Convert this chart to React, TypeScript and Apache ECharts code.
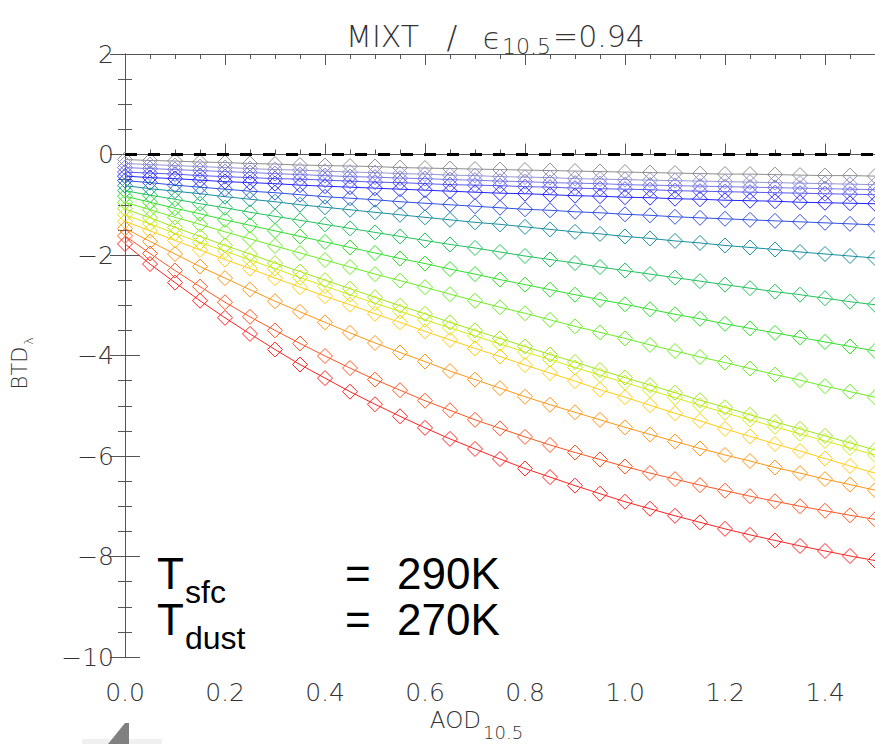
import React, { useEffect, useRef } from 'react';
import * as echarts from 'echarts';

// AOD_10.5 sample positions
const AOD = [
  0.0, 0.05, 0.1, 0.15, 0.2, 0.25, 0.3, 0.35, 0.4, 0.45, 0.5, 0.55, 0.6, 0.65, 0.7, 0.75,
  0.8, 0.85, 0.9, 0.95, 1.0, 1.05, 1.1, 1.15, 1.2, 1.25, 1.3, 1.35, 1.4, 1.45, 1.5,
];

const X_TICK_LABELS = ['0.0', '0.2', '0.4', '0.6', '0.8', '1.0', '1.2', '1.4'];
const Y_TICK_LABELS = ['\u221210', '\u22128', '\u22126', '\u22124', '\u22122', '0', '2'];

// BTD curves (top to bottom)
const btdGray = [-0.10,-0.12,-0.13,-0.15,-0.16,-0.18,-0.19,-0.21,-0.22,-0.23,-0.24,-0.26,-0.27,-0.28,-0.29,-0.30,-0.31,-0.32,-0.33,-0.34,-0.35,-0.36,-0.37,-0.38,-0.39,-0.39,-0.40,-0.41,-0.42,-0.42,-0.43];
const btdLavender = [-0.18,-0.20,-0.22,-0.24,-0.26,-0.28,-0.30,-0.31,-0.33,-0.35,-0.36,-0.38,-0.39,-0.41,-0.42,-0.44,-0.45,-0.46,-0.48,-0.49,-0.50,-0.51,-0.52,-0.53,-0.54,-0.55,-0.56,-0.57,-0.58,-0.59,-0.60];
const btdSlate = [-0.26,-0.28,-0.30,-0.32,-0.34,-0.36,-0.38,-0.40,-0.42,-0.44,-0.45,-0.47,-0.48,-0.50,-0.51,-0.53,-0.54,-0.56,-0.57,-0.58,-0.60,-0.61,-0.62,-0.63,-0.64,-0.65,-0.66,-0.67,-0.68,-0.69,-0.70];
const btdPurpleBlue = [-0.35,-0.37,-0.39,-0.42,-0.44,-0.46,-0.48,-0.49,-0.51,-0.53,-0.55,-0.56,-0.58,-0.60,-0.61,-0.62,-0.64,-0.65,-0.67,-0.68,-0.69,-0.70,-0.72,-0.73,-0.74,-0.75,-0.76,-0.77,-0.78,-0.79,-0.80];
const btdBlue = [-0.43,-0.46,-0.48,-0.51,-0.54,-0.56,-0.58,-0.61,-0.63,-0.65,-0.67,-0.69,-0.71,-0.73,-0.75,-0.77,-0.78,-0.80,-0.82,-0.83,-0.85,-0.86,-0.88,-0.89,-0.91,-0.92,-0.93,-0.95,-0.96,-0.97,-0.98];
const btdRoyal = [-0.52,-0.56,-0.61,-0.65,-0.69,-0.73,-0.76,-0.80,-0.84,-0.87,-0.90,-0.94,-0.97,-1.00,-1.03,-1.06,-1.09,-1.11,-1.14,-1.16,-1.19,-1.21,-1.24,-1.26,-1.28,-1.30,-1.32,-1.34,-1.36,-1.38,-1.40];
const btdTeal = [-0.62,-0.68,-0.73,-0.78,-0.84,-0.89,-0.94,-1.00,-1.05,-1.10,-1.15,-1.20,-1.25,-1.30,-1.35,-1.39,-1.44,-1.49,-1.54,-1.58,-1.63,-1.67,-1.72,-1.76,-1.81,-1.85,-1.89,-1.94,-1.98,-2.02,-2.06];
const btdSeaGreen = [-0.72,-0.81,-0.89,-0.98,-1.06,-1.15,-1.23,-1.31,-1.39,-1.47,-1.55,-1.63,-1.71,-1.79,-1.86,-1.94,-2.02,-2.09,-2.16,-2.24,-2.31,-2.38,-2.45,-2.52,-2.59,-2.66,-2.73,-2.79,-2.86,-2.93,-2.99];
const btdGreen = [-0.83,-0.95,-1.07,-1.18,-1.30,-1.41,-1.52,-1.63,-1.74,-1.85,-1.96,-2.07,-2.17,-2.28,-2.38,-2.49,-2.59,-2.69,-2.79,-2.89,-2.98,-3.08,-3.18,-3.27,-3.37,-3.46,-3.55,-3.64,-3.73,-3.82,-3.91];
const btdLime = [-0.95,-1.10,-1.25,-1.39,-1.54,-1.68,-1.82,-1.96,-2.10,-2.24,-2.38,-2.51,-2.64,-2.78,-2.91,-3.04,-3.16,-3.29,-3.42,-3.54,-3.66,-3.79,-3.91,-4.03,-4.14,-4.26,-4.38,-4.49,-4.61,-4.72,-4.83];
const btdChartreuse = [-1.08,-1.26,-1.45,-1.63,-1.81,-1.98,-2.16,-2.33,-2.50,-2.67,-2.84,-3.01,-3.17,-3.34,-3.50,-3.66,-3.82,-3.98,-4.13,-4.29,-4.44,-4.59,-4.74,-4.89,-5.03,-5.18,-5.32,-5.46,-5.60,-5.74,-5.88];
const btdYellowGreen = [-1.20,-1.38,-1.57,-1.75,-1.92,-2.10,-2.27,-2.45,-2.62,-2.79,-2.96,-3.12,-3.29,-3.45,-3.61,-3.77,-3.93,-4.08,-4.24,-4.39,-4.54,-4.69,-4.84,-4.99,-5.14,-5.28,-5.42,-5.56,-5.70,-5.84,-5.98];
const btdYellow = [-1.33,-1.52,-1.71,-1.90,-2.09,-2.27,-2.46,-2.64,-2.82,-2.99,-3.17,-3.34,-3.52,-3.69,-3.86,-4.02,-4.19,-4.35,-4.51,-4.68,-4.83,-4.99,-5.15,-5.30,-5.46,-5.61,-5.76,-5.90,-6.05,-6.20,-6.34];
const btdOrange = [-1.47,-1.73,-1.98,-2.23,-2.46,-2.69,-2.92,-3.13,-3.34,-3.55,-3.75,-3.94,-4.12,-4.31,-4.48,-4.65,-4.82,-4.98,-5.13,-5.28,-5.43,-5.57,-5.71,-5.85,-5.98,-6.10,-6.23,-6.34,-6.46,-6.57,-6.68];
const btdOrangeRed = [-1.62,-1.97,-2.31,-2.63,-2.94,-3.23,-3.50,-3.76,-4.01,-4.25,-4.48,-4.69,-4.90,-5.09,-5.28,-5.45,-5.62,-5.78,-5.93,-6.07,-6.21,-6.34,-6.46,-6.58,-6.69,-6.80,-6.90,-7.00,-7.09,-7.18,-7.26];
const btdRed = [-1.78,-2.18,-2.55,-2.91,-3.25,-3.57,-3.88,-4.18,-4.45,-4.72,-4.97,-5.21,-5.44,-5.66,-5.86,-6.06,-6.25,-6.42,-6.59,-6.75,-6.91,-7.05,-7.19,-7.32,-7.45,-7.57,-7.68,-7.79,-7.89,-7.99,-8.08];

const CURVES = [
  btdGray, btdLavender, btdSlate, btdPurpleBlue, btdBlue, btdRoyal, btdTeal, btdSeaGreen,
  btdGreen, btdLime, btdChartreuse, btdYellowGreen, btdYellow, btdOrange, btdOrangeRed, btdRed,
];
const COLORS = [
  '#8e8e8e', '#9797d2', '#7a7ae6', '#5a5af2', '#2424ff', '#3050e0', '#1a8e9c', '#22c05c',
  '#2fe02a', '#6aee22', '#9ae81a', '#d2ec10', '#ffcc10', '#ff9514', '#ff5522', '#ff2222',
];

const ZERO_LINE = [0, 1.504];

const LABEL_FONT = 'DejaVu Sans';
const LABEL_WEIGHT = 200;
const AXIS_COLOR = '#555';

export default function App() {
  const ref = useRef<HTMLDivElement>(null);

  useEffect(() => {
    if (!ref.current) return;
    const chart = echarts.init(ref.current, undefined, { renderer: 'svg' });

    const series: any[] = CURVES.map((vals, i) => ({
      type: 'line',
      name: 'c' + i,
      data: AOD.map((a, j) => [a, vals[j]]),
      symbol: 'diamond',
      symbolSize: 15,
      showSymbol: true,
      lineStyle: { color: COLORS[i], width: 1 },
      itemStyle: { color: 'rgba(0,0,0,0)', borderColor: COLORS[i], borderWidth: 1 },
      emphasis: { disabled: true },
      silent: true,
      z: 2,
    }));
    series.push({
      type: 'line',
      name: 'zero',
      data: ZERO_LINE.map((a) => [a, 0]),
      symbol: 'none',
      lineStyle: { color: '#000', width: 3, type: [12, 11] },
      silent: true,
      z: 3,
    });

    const xMajor = (pos: string, labels: boolean) => ({
      type: 'value',
      position: pos,
      min: 0,
      max: 1.504,
      interval: 0.2,
      axisLine: { show: true, lineStyle: { color: AXIS_COLOR, width: 1 } },
      axisTick: { show: true, inside: true, length: 11, lineStyle: { color: AXIS_COLOR } },
      axisLabel: {
        show: labels,
        margin: 23,
        fontSize: 25,
        fontFamily: LABEL_FONT,
        fontWeight: LABEL_WEIGHT,
        color: '#333',
        showMaxLabel: false,
        formatter: (v: number) => {
          const idx = Math.round(v / 0.2);
          return Math.abs(idx * 0.2 - v) < 1e-6 && X_TICK_LABELS[idx] ? X_TICK_LABELS[idx] : '';
        },
      },
      splitLine: { show: false },
    });
    const xMinor = (pos: string) => ({
      type: 'value',
      position: pos,
      min: 0,
      max: 1.504,
      interval: 0.05,
      axisLine: { show: false },
      axisTick: { show: true, inside: true, length: 5, lineStyle: { color: AXIS_COLOR } },
      axisLabel: { show: false },
      splitLine: { show: false },
    });
    const yAxis = (pos: string, labels: boolean) => ({
      type: 'value',
      position: pos,
      min: -10,
      max: 2,
      interval: 2,
      axisLine: { show: true, lineStyle: { color: AXIS_COLOR, width: 1 } },
      axisTick: { show: true, inside: true, length: 15, lineStyle: { color: AXIS_COLOR } },
      minorTick: { show: true, splitNumber: 4, length: 7, lineStyle: { color: AXIS_COLOR } },
      axisLabel: {
        show: labels,
        margin: 11,
        fontSize: 25,
        fontFamily: LABEL_FONT,
        fontWeight: LABEL_WEIGHT,
        color: '#333',
        formatter: (v: number) => {
          const idx = Math.round((v + 10) / 2);
          return Y_TICK_LABELS[idx] ?? '';
        },
      },
      splitLine: { show: false },
      minorSplitLine: { show: false },
    });

    const txt = (text: string, x: number, y: number, fontSize: number, opts: any = {}) => ({
      type: 'text',
      x,
      y,
      rotation: opts.rotation || 0,
      silent: true,
      style: {
        text,
        fontSize,
        fontFamily: opts.font || LABEL_FONT,
        fontWeight: opts.weight ?? (opts.font ? 'normal' : LABEL_WEIGHT),
        fill: opts.fill || '#333',
        align: opts.align || 'left',
        verticalAlign: 'middle',
      },
      z: 10,
    });

    const ANNO = 'Liberation Sans';
    const graphic: any[] = [
      // title
      txt('MIXT', 346, 36, 30),
      txt('/', 452, 37, 32, { align: 'center' }),
      txt('\u03f5', 492, 38, 30, { align: 'center' }),
      txt('10.5', 502, 46, 22),
      txt('=0.94', 553, 36, 30),
      // y-axis name
      txt('BTD', 20, 368, 21, { rotation: Math.PI / 2, align: 'center' }),
      txt('\u03bb', 28, 341, 13, { rotation: Math.PI / 2, align: 'center' }),
      // x-axis name
      txt('AOD', 481, 720, 23, { align: 'right' }),
      txt('10.5', 483, 732, 18),
      // annotation
      txt('T', 157, 573, 44, { font: ANNO, fill: '#000' }),
      txt('sfc', 185, 592, 32, { font: ANNO, fill: '#000' }),
      txt('=', 345, 573, 44, { font: ANNO, fill: '#000' }),
      txt('290K', 397, 573, 44, { font: ANNO, fill: '#000' }),
      txt('T', 157, 619, 44, { font: ANNO, fill: '#000' }),
      txt('dust', 185, 638, 32, { font: ANNO, fill: '#000' }),
      txt('=', 345, 619, 44, { font: ANNO, fill: '#000' }),
      txt('270K', 397, 619, 44, { font: ANNO, fill: '#000' }),
      // cropped logo fragment bottom-left
      {
        type: 'rect',
        shape: { x: 82, y: 739, width: 80, height: 5 },
        style: { fill: '#f0f0f0' },
        silent: true,
        z: 1,
      },
      {
        type: 'polygon',
        shape: { points: [[108, 744], [125, 723], [129, 723], [129, 744]] },
        style: { fill: '#808080' },
        silent: true,
        z: 2,
      },
    ];

    chart.setOption({
      animation: false,
      backgroundColor: '#fff',
      textStyle: { fontFamily: LABEL_FONT },
      grid: { left: 125, top: 54, width: 752, height: 603, containLabel: false, outerBoundsMode: 'none' },
      xAxis: [xMajor('bottom', true), xMinor('bottom'), xMajor('top', false), xMinor('top')],
      yAxis: [yAxis('left', true), yAxis('right', false)],
      series,
      graphic,
    } as any);

    return () => chart.dispose();
  }, []);

  return (
    <div
      ref={ref}
      style={{ position: 'absolute', left: 0, top: 0, width: 875, height: 744, background: '#fff' }}
    />
  );
}
